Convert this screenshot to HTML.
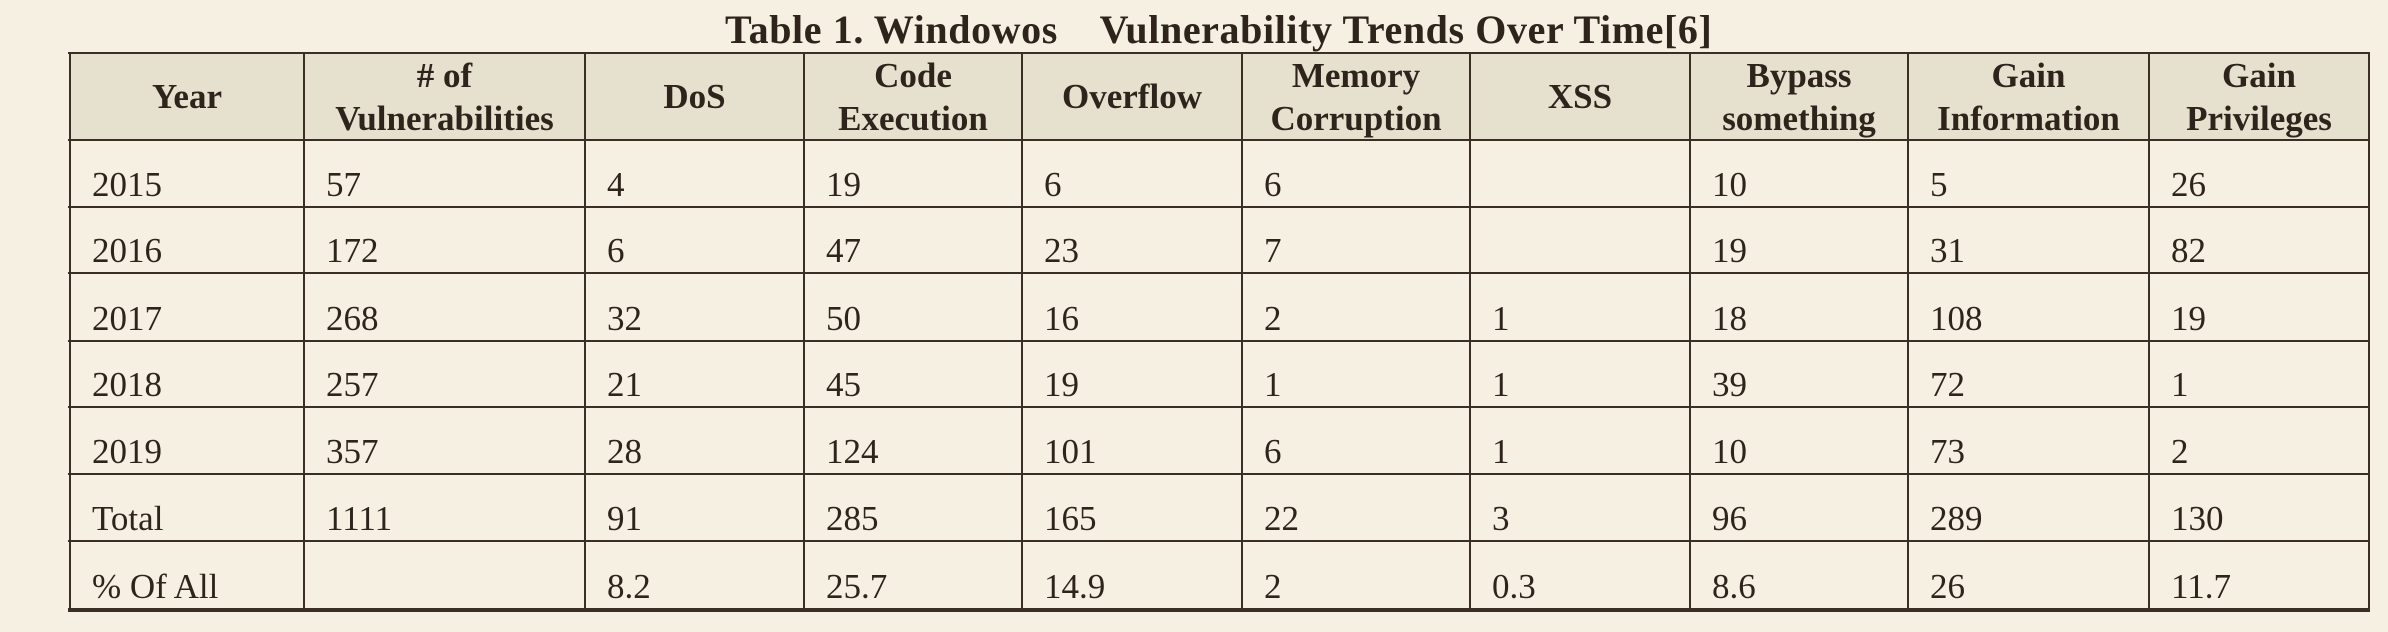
<!DOCTYPE html>
<html><head><meta charset="utf-8"><style>
html,body{margin:0;padding:0;}
body{width:2388px;height:632px;background:#f5f0e2;position:relative;overflow:hidden;font-family:"Liberation Serif",serif;color:#2e241c;}
#title{position:absolute;left:0;width:2388px;top:7px;font-weight:bold;font-size:40px;line-height:46px;white-space:pre;}
#title span{position:absolute;left:725px;letter-spacing:0.6px;}
.c{position:absolute;box-sizing:border-box;}
.h{background:#e6e0cf;font-weight:bold;font-size:35px;line-height:43px;text-align:center;display:flex;align-items:center;justify-content:center;}
.d{font-size:35px;line-height:35px;padding-left:22px;display:flex;align-items:flex-end;padding-bottom:5px;}
.vl{position:absolute;width:2px;background:#3a2e25;}
.hl{position:absolute;height:2px;background:#3a2e25;}
</style></head><body>
<div id="title"><span>Table 1. Windowos    Vulnerability Trends Over Time[6]</span></div>
<div id="tbl"></div>
<script>
const colX=[70,304,585,804,1022,1242,1470,1690,1908,2149,2369];
const rowY=[53,140,207,273,341,407,474,541,609];
const headers=["Year","# of<br>Vulnerabilities","DoS","Code<br>Execution","Overflow","Memory<br>Corruption","XSS","Bypass<br>something","Gain<br>Information","Gain<br>Privileges"];
const rows=[
["2015","57","4","19","6","6","","10","5","26"],
["2016","172","6","47","23","7","","19","31","82"],
["2017","268","32","50","16","2","1","18","108","19"],
["2018","257","21","45","19","1","1","39","72","1"],
["2019","357","28","124","101","6","1","10","73","2"],
["Total","1111","91","285","165","22","3","96","289","130"],
["% Of All","","8.2","25.7","14.9","2","0.3","8.6","26","11.7"]];
const t=document.getElementById('tbl');
for(let i=0;i<headers.length;i++){
 const e=document.createElement('div');e.className='c h';
 
 
 e.style.left=colX[i]+'px';e.style.top=rowY[0]+'px';e.style.width=(colX[i+1]-colX[i])+'px';e.style.height=(rowY[1]-rowY[0])+'px';
 e.innerHTML=headers[i];t.appendChild(e);
}
rows.forEach((r,ri)=>{r.forEach((v,ci)=>{
 const e=document.createElement('div');e.className='c d';
 
 
 e.style.left=colX[ci]+'px';e.style.top=rowY[ri+1]+'px';e.style.width=(colX[ci+1]-colX[ci])+'px';e.style.height=(rowY[ri+2]-rowY[ri+1])+'px';
 e.textContent=v;t.appendChild(e);
});});
colX.forEach(x=>{const l=document.createElement('div');l.className='vl';
 
 
 l.style.left=(x-1)+'px';l.style.top=rowY[0]+'px';l.style.height=(rowY[rowY.length-1]-rowY[0])+'px';t.appendChild(l);});
rowY.forEach((y,i)=>{const l=document.createElement('div');l.className='hl';
 
 
 l.style.left=(colX[0]-2)+'px';l.style.top=(y-1)+'px';l.style.width=(colX[colX.length-1]-colX[0]+3)+'px';
 if(i===rowY.length-1){l.style.height='4px';}
 t.appendChild(l);});
</script>
</body></html>
